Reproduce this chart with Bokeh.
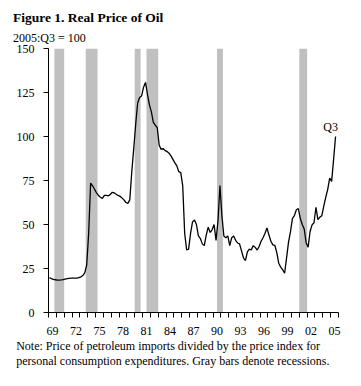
from bokeh.plotting import figure
from bokeh.models import Range1d, FixedTicker, Label, ColumnDataSource, Title
from bokeh.embed import file_html
from bokeh.resources import INLINE

# ---- data (quarterly, 1969:Q1 .. 2005:Q3, 2005:Q3 = 100) ----
start_year = 1969
price = [
    19.8, 19.2, 18.8, 18.6,   # 1969
    18.4, 18.4, 18.5, 18.7,   # 1970
    19.0, 19.3, 19.4, 19.5,   # 1971
    19.5, 19.5, 19.6, 19.8,   # 1972
    20.2, 21.0, 22.5, 27.0,   # 1973
    45.0, 73.5, 72.0, 70.0,   # 1974
    68.0, 66.5, 65.5, 64.8,   # 1975
    66.5, 66.5, 66.3, 67.0,   # 1976
    68.3, 68.0, 67.2, 66.5,   # 1977
    66.0, 65.0, 64.0, 62.5,   # 1978
    62.0, 64.0, 80.0, 93.0,   # 1979
    107.0, 119.0, 122.2, 123.0,  # 1980
    128.0, 130.7, 124.0, 118.0,  # 1981
    114.0, 108.0, 106.4, 105.0,  # 1982
    95.0, 92.7, 93.2, 92.0,   # 1983
    91.5, 90.5, 89.0, 87.0,   # 1984
    85.0, 83.3, 80.0, 79.5,   # 1985
    72.0, 45.0, 35.5, 36.0,   # 1986
    45.0, 51.5, 52.5, 50.0,   # 1987
    43.5, 42.0, 39.0, 38.0,   # 1988
    44.0, 48.5, 45.5, 47.0,   # 1989
    50.0, 41.0, 52.0, 72.2,   # 1990
    55.0, 43.5, 42.5, 43.5,   # 1991
    38.0, 42.5, 43.5, 41.0,   # 1992
    39.5, 39.0, 35.0, 31.0,   # 1993
    29.5, 34.5, 36.0, 35.5,   # 1994
    38.0, 37.0, 35.5, 37.5,   # 1995
    40.5, 42.5, 45.0, 48.0,   # 1996
    44.0, 40.5, 38.4, 38.2,   # 1997
    34.0, 28.0, 25.8, 24.3,   # 1998
    22.3, 31.0, 40.0, 46.0,   # 1999
    53.5, 55.1, 58.4, 59.0,   # 2000
    53.5, 50.0, 47.5, 39.5,   # 2001
    37.1, 46.0, 49.8, 51.0,   # 2002
    59.8, 52.8, 54.2, 55.0,   # 2003
    60.5, 65.5, 70.0, 76.3,   # 2004
    74.5, 87.0, 100.0,        # 2005
]
quarter_time = [start_year + i / 4 + 0.125 for i in range(len(price))]

# recessions (start / end, in years)
rec_start = [1969.75, 1973.75, 1980.0, 1981.5, 1990.5, 2001.0]
rec_end = [1971.0, 1975.25, 1980.75, 1983.0, 1991.25, 2002.0]

y_ticks = [0, 25, 50, 75, 100, 125, 150]
x_label_years = [1969, 1972, 1975, 1978, 1981, 1984, 1987, 1990, 1993, 1996, 1999, 2002, 2005]
x_tick_labels = ["69", "72", "75", "78", "81", "84", "87", "90", "93", "96", "99", "02", "05"]
year_ticks = list(range(1969, 2007))

title_text = "Figure 1. Real Price of Oil"
subtitle_text = "2005:Q3 = 100"
note_lines = [
    "Note: Price of petroleum imports divided by the price index for",
    "personal consumption expenditures. Gray bars denote recessions.",
]
end_label = "Q3"

FONT = "Liberation Serif"

p = figure(width=355, height=380, output_backend="svg", toolbar_location=None,
           x_range=Range1d(year_ticks[0], year_ticks[-1]),
           y_range=Range1d(y_ticks[0], y_ticks[-1]),
           min_border_left=48, min_border_right=17, min_border_top=48, min_border_bottom=68)
p.outline_line_color = None
p.xgrid.visible = False
p.ygrid.visible = False
p.background_fill_color = "white"
p.border_fill_color = "white"

# recession bars
rsrc = ColumnDataSource(dict(left=rec_start, right=rec_end,
                             bottom=[y_ticks[0]] * len(rec_start),
                             top=[y_ticks[-1]] * len(rec_start)))
p.quad(left="left", right="right", bottom="bottom", top="top", source=rsrc,
       fill_color="#c0c0c0", line_color=None)

# price line
src = ColumnDataSource(dict(t=quarter_time, v=price))
p.line("t", "v", source=src, line_color="black", line_width=1.3)

# y axis
ya = p.yaxis[0]
ya.ticker = FixedTicker(ticks=y_ticks)
ya.minor_tick_line_color = None
ya.major_tick_out = 5
ya.major_tick_in = 0
ya.major_label_standoff = 9
ya.major_label_text_font = FONT
ya.major_label_text_font_size = "12px"
ya.major_label_text_color = "black"
ya.axis_line_color = "black"
ya.major_tick_line_color = "black"

# x axis: year ticks (minor), labels centered in years (major, no tick)
xa = p.xaxis[0]
label_pos = [y + 0.5 for y in x_label_years]
xa.ticker = FixedTicker(ticks=label_pos, minor_ticks=year_ticks)
xa.major_label_overrides = {pos: lab for pos, lab in zip(label_pos, x_tick_labels)}
xa.major_tick_out = 0
xa.major_tick_in = 0
xa.minor_tick_out = 5
xa.minor_tick_in = 0
xa.minor_tick_line_color = "black"
xa.major_label_standoff = 9
xa.major_label_text_font = FONT
xa.major_label_text_font_size = "12px"
xa.major_label_text_color = "black"
xa.axis_line_color = "black"

# titles above (first added is nearest to the plot)
p.add_layout(Title(text=subtitle_text, align="left", offset=-35.6, standoff=8,
                   text_font=FONT, text_font_size="12px", text_font_style="normal",
                   text_color="black"), "above")
p.add_layout(Title(text=title_text, align="left", offset=-35.6, standoff=0,
                   text_font=FONT, text_font_size="13.5px", text_font_style="bold",
                   text_color="black"), "above")
# notes below
for i, line in enumerate(note_lines):
    p.add_layout(Title(text=line, align="left", offset=-32.3, standoff=-2 if i == 0 else 0,
                       text_font=FONT, text_font_size="12px", text_font_style="normal",
                       text_color="black"), "below")

p.add_layout(Label(x=quarter_time[-1], y=price[-1], x_offset=-5, y_offset=10, text=end_label,
                   text_font=FONT, text_font_size="12px", text_color="black",
                   text_align="center", text_baseline="alphabetic"))

open("out.html", "w").write(file_html(p, INLINE))
